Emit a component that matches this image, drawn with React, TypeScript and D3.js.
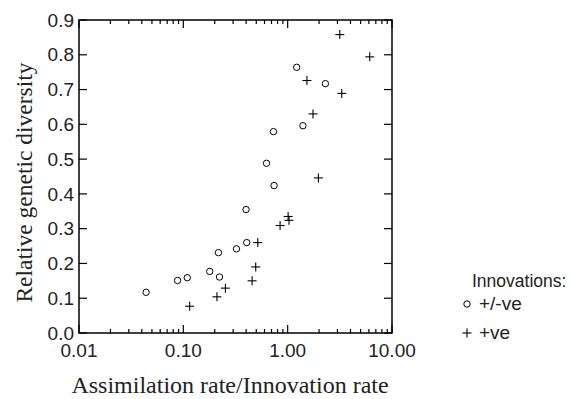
import * as d3 from "d3";
import { useEffect, useRef } from "react";

const WIDTH = 571;
const HEIGHT = 399;
const MARGIN = { top: 20, right: 179, bottom: 66, left: 79 };

// +/-ve innovations (circles)
const mixedRatio = [0.044, 0.088, 0.109, 0.179, 0.222, 0.217, 0.323, 0.405, 0.399, 0.627, 0.741, 0.731, 1.4, 1.22, 2.3];
const mixedDiversity = [0.117, 0.151, 0.159, 0.177, 0.161, 0.231, 0.242, 0.26, 0.355, 0.488, 0.424, 0.579, 0.596, 0.764, 0.717];

// +ve innovations (crosses)
const positiveRatio = [0.115, 0.21, 0.253, 0.456, 0.494, 0.517, 0.846, 1.01, 1.03, 1.97, 1.75, 1.53, 3.3, 3.16, 6.12];
const positiveDiversity = [0.077, 0.104, 0.129, 0.15, 0.19, 0.26, 0.309, 0.335, 0.324, 0.446, 0.63, 0.726, 0.689, 0.858, 0.794];

const xMajorTicks = [0.01, 0.1, 1, 10];
const xTickLabels = ["0.01", "0.10", "1.00", "10.00"];
const yTicks = [0, 0.1, 0.2, 0.3, 0.4, 0.5, 0.6, 0.7, 0.8, 0.9];

const SANS = "'Liberation Sans', Arial, sans-serif";
const SERIF = "'Liberation Serif', 'Times New Roman', serif";

export default function App() {
  const ref = useRef<SVGSVGElement>(null);

  useEffect(() => {
    const svg = d3.select(ref.current);
    svg.selectAll("*").remove();

    const x0 = MARGIN.left;
    const x1 = WIDTH - MARGIN.right;
    const y0 = HEIGHT - MARGIN.bottom;
    const y1 = MARGIN.top;

    const xScale = d3.scaleLog().domain([0.01, 10]).range([x0, x1]);
    const yScale = d3.scaleLinear().domain([0, 0.9]).range([y0, y1]);

    const g = svg.append("g");

    // frame
    g.append("rect")
      .attr("x", x0)
      .attr("y", y1)
      .attr("width", x1 - x0)
      .attr("height", y0 - y1)
      .attr("fill", "none")
      .attr("stroke", "#000")
      .attr("stroke-width", 1.5);

    // x ticks, top and bottom, pointing inward
    const xTicks = xScale.ticks();
    const isMajor = (v: number) => xMajorTicks.some((m) => Math.abs(m - v) < 1e-9);
    g.selectAll(".xtick-b")
      .data(xTicks)
      .join("line")
      .attr("x1", (d) => xScale(d))
      .attr("x2", (d) => xScale(d))
      .attr("y1", y0)
      .attr("y2", (d) => y0 - (isMajor(d) ? 8 : 4))
      .attr("stroke", "#000")
      .attr("stroke-width", 1.2);
    g.selectAll(".xtick-t")
      .data(xTicks)
      .join("line")
      .attr("x1", (d) => xScale(d))
      .attr("x2", (d) => xScale(d))
      .attr("y1", y1)
      .attr("y2", (d) => y1 + (isMajor(d) ? 8 : 4))
      .attr("stroke", "#000")
      .attr("stroke-width", 1.2);

    g.selectAll(".xlabel")
      .data(xMajorTicks)
      .join("text")
      .attr("x", (d) => xScale(d))
      .attr("y", y0 + 24)
      .attr("text-anchor", "middle")
      .attr("font-family", SANS)
      .attr("font-size", 19)
      .attr("fill", "#222")
      .text((_, i) => xTickLabels[i]);

    // y ticks, both sides
    g.selectAll(".ytick-l")
      .data(yTicks)
      .join("line")
      .attr("x1", x0)
      .attr("x2", x0 + 8)
      .attr("y1", (d) => yScale(d))
      .attr("y2", (d) => yScale(d))
      .attr("stroke", "#000")
      .attr("stroke-width", 1.2);
    g.selectAll(".ytick-r")
      .data(yTicks)
      .join("line")
      .attr("x1", x1)
      .attr("x2", x1 - 8)
      .attr("y1", (d) => yScale(d))
      .attr("y2", (d) => yScale(d))
      .attr("stroke", "#000")
      .attr("stroke-width", 1.2);

    g.selectAll(".ylabel")
      .data(yTicks)
      .join("text")
      .attr("x", x0 - 5)
      .attr("y", (d) => yScale(d))
      .attr("dy", "0.35em")
      .attr("text-anchor", "end")
      .attr("font-family", SANS)
      .attr("font-size", 19)
      .attr("fill", "#222")
      .text((d) => d.toFixed(1));

    // axis titles
    g.append("text")
      .attr("x", 230)
      .attr("y", 393)
      .attr("text-anchor", "middle")
      .attr("font-family", SERIF)
      .attr("font-size", 24)
      .attr("fill", "#222")
      .text("Assimilation rate/Innovation rate");

    g.append("text")
      .attr("transform", `translate(32, ${(y0 + y1) / 2 + 6}) rotate(-90)`)
      .attr("text-anchor", "middle")
      .attr("font-family", SERIF)
      .attr("font-size", 23.5)
      .attr("fill", "#222")
      .text("Relative genetic diversity");

    // points
    g.selectAll(".circ")
      .data(mixedRatio)
      .join("circle")
      .attr("cx", (d) => xScale(d))
      .attr("cy", (_, i) => yScale(mixedDiversity[i]))
      .attr("r", 3.2)
      .attr("fill", "none")
      .attr("stroke", "#000")
      .attr("stroke-width", 1);

    const cross = (sel: d3.Selection<SVGGElement, unknown, null, undefined>, cx: number, cy: number) => {
      sel.append("line").attr("x1", cx - 4.5).attr("x2", cx + 4.5).attr("y1", cy).attr("y2", cy);
      sel.append("line").attr("x1", cx).attr("x2", cx).attr("y1", cy - 4.5).attr("y2", cy + 4.5);
    };
    const crosses = g.append("g").attr("stroke", "#000").attr("stroke-width", 1.1);
    positiveRatio.forEach((v, i) => cross(crosses, xScale(v), yScale(positiveDiversity[i])));

    // legend
    g.append("text")
      .attr("x", 472)
      .attr("y", 287)
      .attr("font-family", SANS)
      .attr("font-size", 17.5)
      .attr("fill", "#222")
      .text("Innovations:");

    g.append("circle")
      .attr("cx", 467)
      .attr("cy", 304)
      .attr("r", 3.2)
      .attr("fill", "none")
      .attr("stroke", "#000");
    g.append("text")
      .attr("x", 479)
      .attr("y", 310)
      .attr("font-family", SANS)
      .attr("font-size", 19)
      .attr("fill", "#222")
      .text("+/-ve");

    const legendCross = g.append("g").attr("stroke", "#000").attr("stroke-width", 1.1);
    cross(legendCross, 467, 333);
    g.append("text")
      .attr("x", 479)
      .attr("y", 339)
      .attr("font-family", SANS)
      .attr("font-size", 19)
      .attr("fill", "#222")
      .text("+ve");
  }, []);

  return (
    <svg
      ref={ref}
      width={WIDTH}
      height={HEIGHT}
      style={{ position: "absolute", left: 0, top: 0, background: "#fff" }}
    />
  );
}
